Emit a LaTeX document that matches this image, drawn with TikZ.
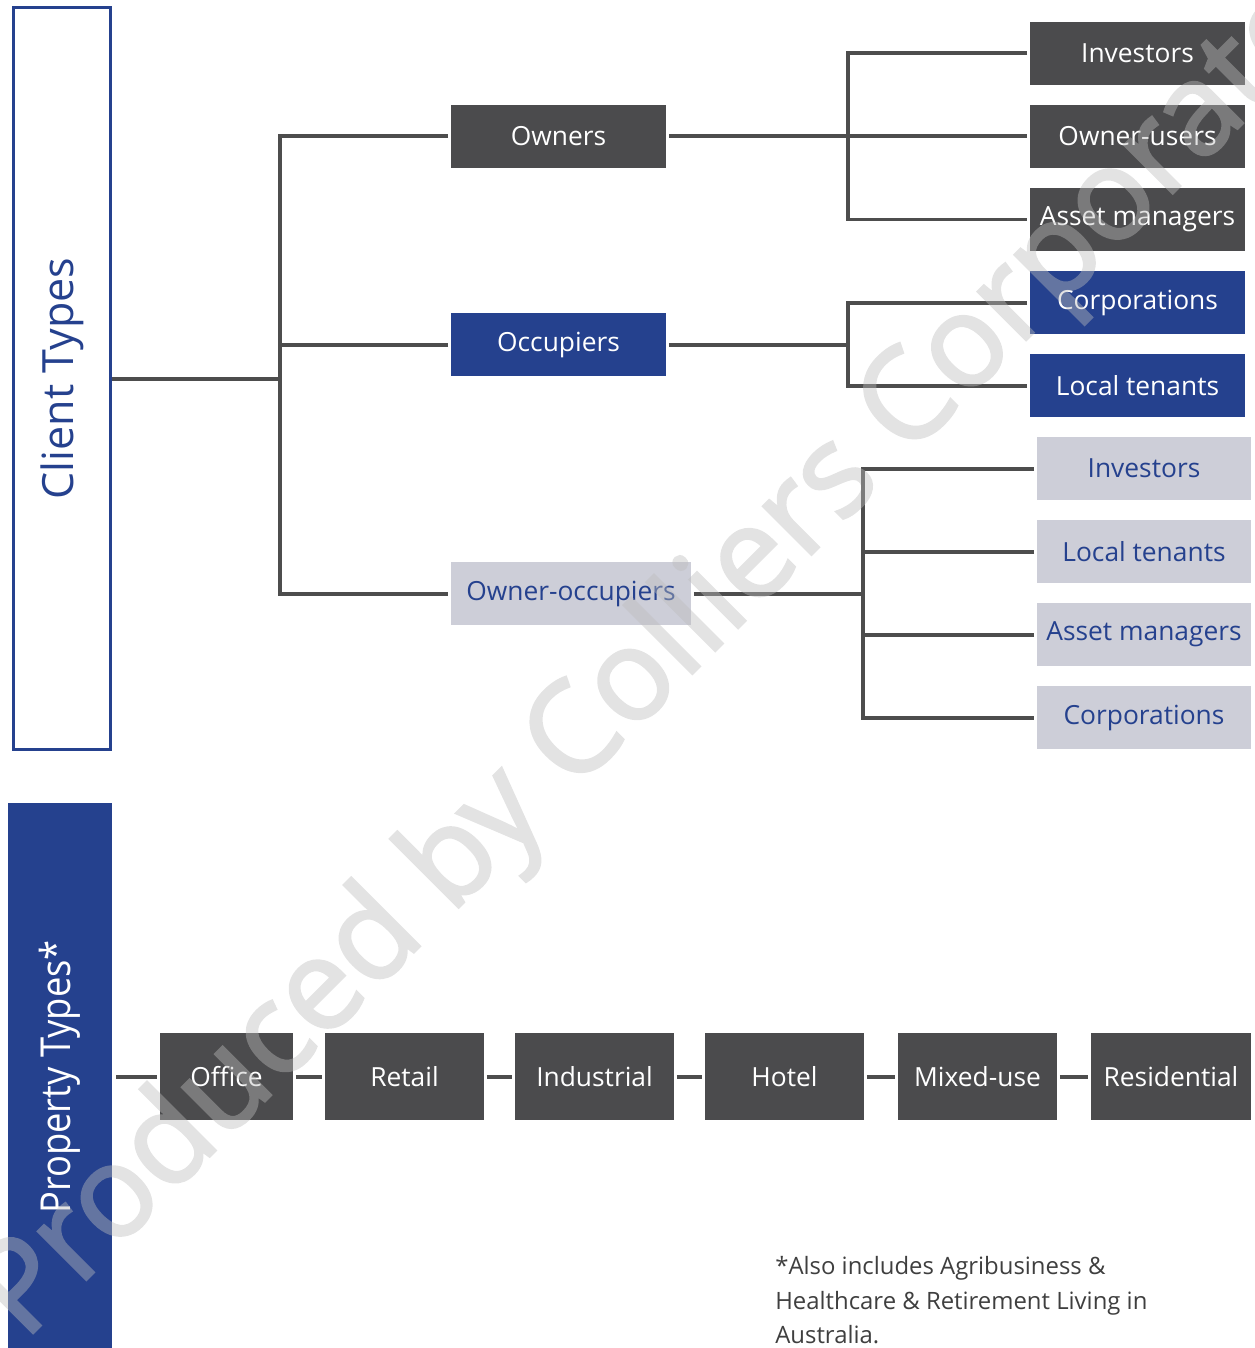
\documentclass[tikz,border=0pt]{standalone}
\usepackage{fontspec}
\setmainfont{Open Sans}
\newfontfamily\marcafont[FakeBold=2]{Open Sans}
\usepackage{tikz}
\usepackage{xcolor}

\definecolor{cajagris}{HTML}{4B4B4D}
\definecolor{cajaazul}{HTML}{25418E}
\definecolor{cajaclara}{HTML}{CDCED8}
\definecolor{lineagris}{HTML}{4D4D4D}
\definecolor{notagris}{HTML}{3F3F3F}

\begin{document}
\begin{tikzpicture}[x=0.02cm, y=-0.02cm,
        caja/.style={inner sep=0pt, outer sep=1.7pt, minimum width=4.3cm, minimum height=1.26cm, font=\fontsize{15}{18}\selectfont},
        oscura/.style={caja, fill=cajagris, text=white},
        azul/.style={caja, fill=cajaazul, text=white},
        clara/.style={caja, fill=cajaclara, text=cajaazul},
        tipo/.style={oscura, minimum width=3.18cm, minimum height=1.74cm},
        linea/.style={draw=lineagris, line width=0.08cm}]
        \useasboundingbox (0, 0) rectangle (1254, 1348);

        % Columnas laterales
        \node[draw=cajaazul, line width=0.06cm, minimum width=1.94cm, minimum height=14.84cm, inner sep=0pt] (clientes) at (62, 378.5) {};
        \node[rotate=90, text=cajaazul, font=\fontsize{24.5}{28}\selectfont] (clientestxt) at (clientes.center) {Client Types};
        \node[fill=cajaazul, minimum width=2.08cm, minimum height=10.94cm, inner sep=0pt, outer sep=2.3pt] (propiedad) at (60, 1076.5) {};
        \node[rotate=90, text=white, font=\fontsize{23.5}{28}\selectfont] (propiedadtxt) at (60, 1077) {\scalebox{0.88}[1]{Property Types*}};

        % Nivel 1
        \node[oscura] (owners) at (558.5, 136.5) {Owners};
        \node[azul] (occupiers) at (558.5, 344.5) {Occupiers};
        \node[clara, minimum width=4.8cm] (ownocc) at (571, 593.5) {Owner-occupiers};

        % Nivel 2
        \node[oscura] (inv) at (1137.5, 53.5) {Investors};
        \node[oscura] (ousers) at (1137.5, 136.5) {Owner-users};
        \node[oscura] (amgr) at (1137.5, 219.5) {Asset managers};
        \node[azul] (corp) at (1137.5, 302.5) {Corporations};
        \node[azul] (local) at (1137.5, 385.5) {Local tenants};
        \node[clara, minimum width=4.28cm] (inv2) at (1144, 468.5) {Investors};
        \node[clara, minimum width=4.28cm] (local2) at (1144, 551.5) {Local tenants};
        \node[clara, minimum width=4.28cm] (amgr2) at (1144, 634.5) {Asset managers};
        \node[clara, minimum width=4.28cm] (corp2) at (1144, 717.5) {Corporations};

        % Uniones
        \coordinate (tronco) at (280, 378.5);
        \coordinate (jown) at (848, 136.5);
        \coordinate (jocc) at (848, 344.5);
        \coordinate (joo) at (863, 593.5);

        \draw[linea] (clientes.east) -- (tronco);
        \draw[linea] (owners.west) -| (tronco) |- (ownocc.west);
        \draw[linea] (occupiers.west) -- (occupiers.west -| tronco);

        \draw[linea] (owners.east) -- (ousers.west);
        \draw[linea] (inv.west) -| (jown) |- (amgr.west);

        \draw[linea] (occupiers.east) -- (jocc);
        \draw[linea] (corp.west) -| (jocc) |- (local.west);

        \draw[linea] (ownocc.east) -- (joo);
        \draw[linea] (inv2.west) -| (joo) |- (corp2.west);
        \draw[linea] (local2.west) -- (local2.west -| joo);
        \draw[linea] (amgr2.west) -- (amgr2.west -| joo);

        % Tipos de propiedad
        \node[tipo, minimum width=2.66cm] (office) at (226.5, 1076.5) {Office};
        \node[tipo] (retail) at (404.5, 1076.5) {Retail};
        \node[tipo] (industrial) at (594.5, 1076.5) {Industrial};
        \node[tipo] (hotel) at (784.5, 1076.5) {Hotel};
        \node[tipo] (mixed) at (977.5, 1076.5) {Mixed-use};
        \node[tipo, minimum width=3.2cm] (residential) at (1171, 1076.5) {Residential};

        \draw[linea] (propiedad.east) -- (office.west);
        \draw[linea] (office.east) -- (retail.west);
        \draw[linea] (retail.east) -- (industrial.west);
        \draw[linea] (industrial.east) -- (hotel.west);
        \draw[linea] (hotel.east) -- (mixed.west);
        \draw[linea] (mixed.east) -- (residential.west);

        % Nota
        \node[anchor=north west, align=left, inner sep=0pt, text=notagris, font=\fontsize{13.6}{19.7}\selectfont] (nota) at (775, 1256) {*Also includes Agribusiness \&\\Healthcare \& Retirement Living in\\Australia.};

        % Marca de agua
        \begin{scope}[transparency group, opacity=0.42]
        \node[rotate=45, anchor=base west, inner sep=0pt, text=black!26, font=\marcafont\fontsize{72.6}{80}\selectfont] (marca) at (24, 1342) {Produced by Colliers Corporate};
        \end{scope}
\end{tikzpicture}
\end{document}
